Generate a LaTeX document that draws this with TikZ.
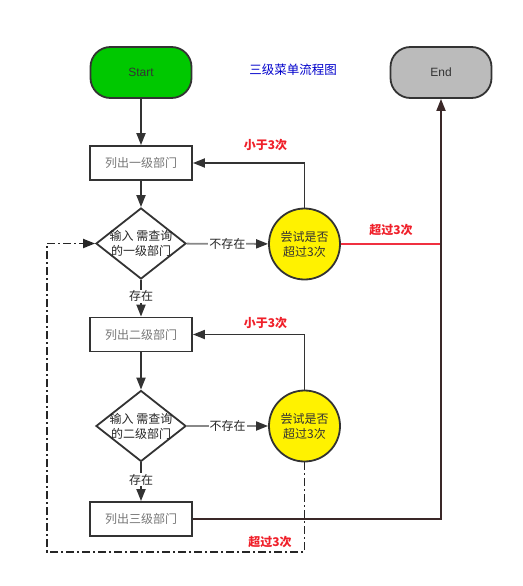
\documentclass[tikz,border=0pt]{standalone}
\usepackage{fontspec}
\setmainfont{Noto Sans CJK SC}
\newfontfamily\latinsans{Liberation Sans}
\usetikzlibrary{shapes.geometric,arrows.meta,positioning,calc}
\definecolor{startgreen}{HTML}{00C800}
\definecolor{endgray}{HTML}{BBBBBB}
\definecolor{linegray}{HTML}{333333}
\definecolor{lightline}{HTML}{888888}
\definecolor{redlbl}{HTML}{F0202A}
\definecolor{redline}{HTML}{F03040}
\definecolor{brownline}{HTML}{3A2828}
\definecolor{titleblue}{HTML}{0000CC}
\definecolor{boxtext}{HTML}{777777}
\tikzset{
  term/.style={draw=linegray, line width=1.8pt, rounded corners=20pt, minimum width=101pt, minimum height=51pt, font=\latinsans\fontsize{12}{14}\selectfont, text=linegray},
  procbox/.style={draw=linegray, line width=1.8pt, fill=white, minimum width=102pt, minimum height=34pt, inner sep=0pt, font=\fontsize{12}{14}\selectfont, text=boxtext},
  decision/.style={draw=linegray, line width=1.8pt, diamond, fill=white, minimum width=90pt, minimum height=71pt, inner sep=0pt},
  dtext/.style={align=center, font=\fontsize{12}{15}\selectfont, text=black!85, inner sep=0pt},
  trycircle/.style={draw=linegray, line width=1.8pt, circle, fill=yellow, minimum size=71pt, inner sep=0pt, align=center, font=\fontsize{12}{15}\selectfont, text=black!80},
  arr/.style={draw=linegray, line width=1.8pt, -{Triangle[length=12pt,width=9pt]}},
  grayarr/.style={draw=lightline, line width=1.8pt, -{Triangle[length=12pt,width=9pt,color=linegray]}},
  lbl/.style={fill=white, inner sep=1pt, font=\fontsize{12}{14}\selectfont, text=black!85},
  redlabel/.style={font=\bfseries\fontsize{12}{14}\selectfont, text=redlbl},
  dashdot/.style={draw=black!85, line width=1.8pt, dash pattern=on 8pt off 3pt on 2pt off 3pt, -{Triangle[length=12pt,width=9pt]}},
}
\begin{document}
\begin{tikzpicture}[x=1pt,y=-1pt]
\useasboundingbox[fill=white] (0,0) rectangle (522,586);
% terminals
\node[term, fill=startgreen] (start) at (141,72.5) {Start};
\node[term, fill=endgray] (end) at (441,72.5) {End};
\node[font=\fontsize{12.5}{14}\selectfont, text=titleblue] (title) at (293,70) {三级菜单流程图};
% level 1
\node[procbox] (b1) at (141,163) {列出一级部门};
\node[decision] (d1) at (141,243.5) {};
\node[dtext] (d1t) at (d1) {输入 需查询\\的一级部门};
\node[trycircle] (c1) at (304.5,244) {尝试是否\\超过3次};
% level 2
\node[procbox] (b2) at (141,334.5) {列出二级部门};
\node[decision] (d2) at (141,426) {};
\node[dtext] (d2t) at (d2) {输入 需查询\\的二级部门};
\node[trycircle] (c2) at (304.5,426) {尝试是否\\超过3次};
% level 3
\node[procbox] (b3) at (141,519) {列出三级部门};
% helper coordinates
\coordinate (loopbr) at (304.5,552);
\coordinate (loopbl) at (47,552);
% connectors
\draw[arr] (start) -- (b1);
\draw[arr] (b1) -- (d1);
\draw[grayarr] (d1) -- node[lbl]{不存在} (c1);
\draw[arr] (d1) -- node[lbl, pos=0.45]{存在} (b2);
\draw[arr] (c1.north) |- node[redlabel, pos=0.675, above=8pt]{小于3次} (b1.east);
\draw[draw=redline, line width=1.5pt] (c1.east) -- (c1.east -| end.south) node[redlabel, midway, above=4pt]{超过3次};
\draw[arr] (b2) -- (d2);
\draw[grayarr] (d2) -- node[lbl]{不存在} (c2);
\draw[arr] (d2) -- node[lbl, pos=0.45]{存在} (b3);
\draw[arr] (c2.north) |- node[redlabel, pos=0.675, above=1pt]{小于3次} (b2.east);
\draw[draw=brownline, line width=1.8pt, -{Triangle[length=12pt,width=9pt]}] (b3.east) -| (end.south);
\draw[dashdot] (c2.south) -- (loopbr) -- (loopbl) |- (d1.west);
\node[redlabel] (lbl5) at (270,542) {超过3次};
\end{tikzpicture}
\end{document}
